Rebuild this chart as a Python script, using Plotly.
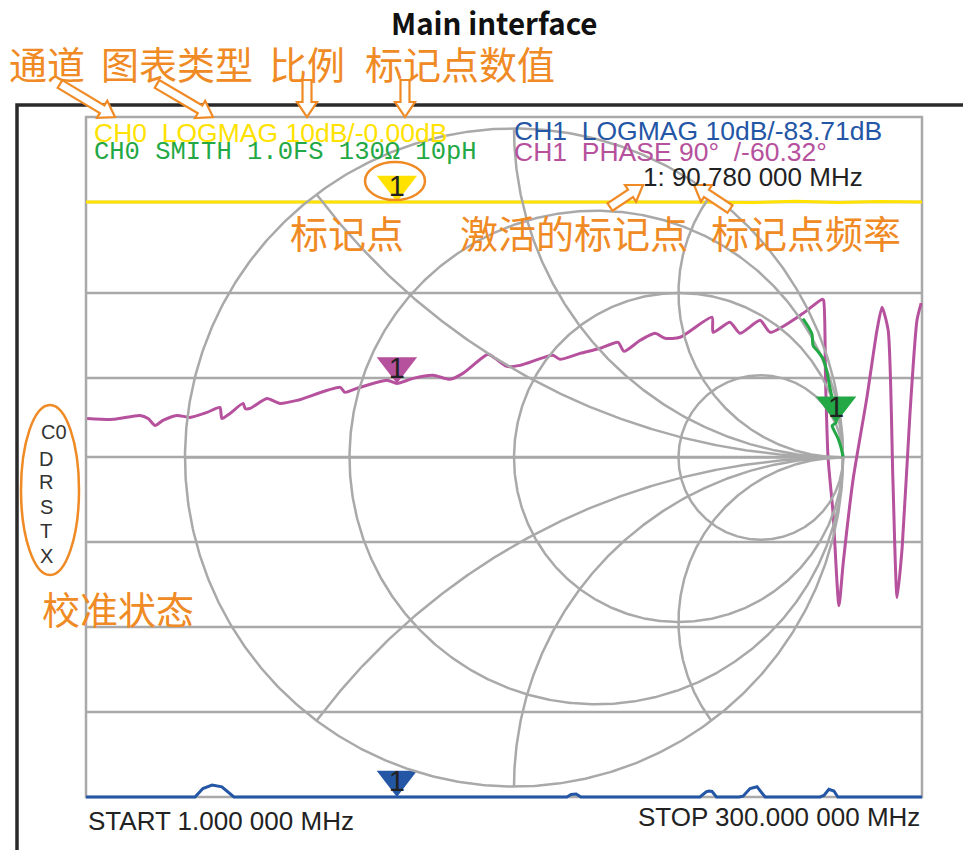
import numpy as np
import plotly.graph_objects as go

# ------------------------------------------------------------------ data
F_START_MHZ = 1.0
F_STOP_MHZ = 300.0
N_DIV = 8
GRID_DIVS = [1, 2, 3, 4, 4.93, 5.93, 7]          # horizontal graticule lines (as drawn)

LOGMAG_SCALE_DB = 10.0
LOGMAG_REF_DIV = 7.0
PHASE_SCALE_DEG = 90.0
PHASE_REF_DIV = 5.536

MARKER_FREQ = 112.2       # sweep position where marker 1 is drawn

# CH0 LOGMAG (yellow), dB
CH0_LOGMAG_FREQ = [1, 30, 60, 90, 120, 150, 180, 210, 240, 255, 270, 285, 300]
CH0_LOGMAG_DB = [0.0, 0.02, -0.02, 0.0, 0.0, -0.01, 0.02, 0.0, -0.05, 0.08, -0.06, 0.05, 0.0]

# CH1 LOGMAG (blue), dB  (mostly below the bottom of the screen)
CH1_LOGMAG_FREQ = [1, 20, 38.5, 40.0, 42.8, 46.1, 49.6, 52.5, 53.9, 56, 80, 112.2, 140,
                   171.5, 173.0, 174.5, 176.3, 178.0, 180, 200,
                   219, 220.6, 222.8, 223.8, 224.9, 226.5,
                   234.5, 236.0, 238.5, 241.0, 243.9, 245.5, 255,
                   263.5, 265.0, 266.7, 268.5, 269.9, 271.5, 285, 300]
CH1_LOGMAG_DB = [-82, -85, -78, -70.2, -69.0, -68.6, -68.8, -69.6, -70.3, -80, -86, -83.71, -88,
                 -76, -70.0, -69.7, -69.65, -70.1, -80, -84,
                 -75, -70.0, -69.4, -69.3, -69.35, -76,
                 -75, -69.9, -69.0, -68.8, -70.1, -80, -86,
                 -75, -69.8, -69.1, -69.3, -70.2, -80, -87, -83]

# CH1 PHASE (magenta), degrees
CH1_PHASE_FREQ = [1.4, 10.7, 20.3, 23.2, 25.7, 28.5, 33.5, 38.2, 44.3, 48.9, 49.6, 52.5,
                  57.2, 57.9, 59.7, 65.7, 70.4, 76.5, 91.9, 93.6, 97.9, 108.7, 112.2,
                  118.0, 125.1, 131.2, 135.8, 144.8, 147.3, 151.6, 156.2, 168.0, 170.5,
                  177.7, 184.9, 191.3, 193.4, 199.2, 204.5, 208.1, 213.5, 224.9, 225.3,
                  231.3, 234.9, 242.1, 245.7, 257.5, 264.3, 264.8, 265.5, 266.4, 268.2,
                  270.3, 271.8, 275.3, 280.3, 283.9, 285.7, 287.9, 289.6, 291.1, 292.9,
                  295.7, 298.2, 299.7]
CH1_PHASE_DEG = [-97.4, -98.4, -94.2, -97.4, -104.8, -99.5, -94.2, -96.3, -91.0, -85.7, -97.4, -92.1,
                 -81.5, -86.8, -86.8, -76.2, -81.5, -78.3, -64.5, -69.8, -65.6, -57.1, -60.32,
                 -55.0, -51.8, -56.0, -49.7, -29.5, -33.7, -42.3, -41.2, -30.6, -34.8,
                 -28.5, -23.1, -16.8, -26.4, -14.7, -7.3, -12.6, -11.5, 9.7, -6.2,
                 4.4, -7.3, 6.5, -6.2, 13.9, 28.8, 27.7, -57.1, -138.8, -198.1,
                 -295.7, -251.2, -163.1, -75.1, -4.1, 20.3, -4.1, -163.1, -287.2, -234.2,
                 -92.1, 6.5, 24.6]

# CH0 SMITH (green), reflection coefficient
CH0_SMITH_RE = [0.878, 0.894, 0.906, 0.909, 0.924, 0.939, 0.951, 0.960, 0.970, 0.979,
                0.967, 0.973, 0.985, 0.994, 1.000]
CH0_SMITH_IM = [0.422, 0.398, 0.374, 0.340, 0.322, 0.301, 0.261, 0.213, 0.167, 0.106,
                0.097, 0.082, 0.058, 0.030, 0.003]
SMITH_MARKER_INDEX = 9

SMITH_R_CIRCLES = [1 / 3, 1, 3]
SMITH_X_ARCS = [0.5, 1, 2, -0.5, -1, -2]

# texts
TITLE = "Main interface"
HDR_CH0_LOGMAG = "CH0\u00a0\u00a0LOGMAG 10dB/-0.00dB"
HDR_CH0_SMITH = "CH0\u00a0SMITH\u00a01.0FS\u00a0130Ω\u00a010pH"
HDR_CH1_LOGMAG = "CH1\u00a0\u00a0LOGMAG 10dB/-83.71dB"
HDR_CH1_PHASE = "CH1\u00a0\u00a0PHASE 90°\u00a0\u00a0/-60.32°"
MARKER_READOUT = "1: 90.780 000 MHz"
START_LABEL = "START 1.000 000 MHz"
STOP_LABEL = "STOP 300.000 000 MHz"
MARKER_LABEL = "1"
CAL_STATUS = ["C0", "D", "R", "S", "T", "X"]
CALLOUT_TOP = ["通道", "图表类型", "比例", "标记点数值"]
CALLOUT_MID = ["标记点", "激活的标记点", "标记点频率"]
CALLOUT_CAL = "校准状态"

# ------------------------------------------------------------------ layout constants
W, H = 963, 850
GRAT_L, GRAT_R, GRAT_T, GRAT_B = 86, 922, 117, 797
PAD = 8
ML, MR, MT, MB = GRAT_L - PAD, W - GRAT_R - PAD, GRAT_T - PAD, H - GRAT_B - PAD
PLOT_W, PLOT_H = W - ML - MR, H - MT - MB
MHZ_PER_PX = (F_STOP_MHZ - F_START_MHZ) / (GRAT_R - GRAT_L)
DIV_PER_PX = N_DIV / (GRAT_B - GRAT_T)

SMITH_CX, SMITH_CY, SMITH_R = 514, 457.5, 329
G_PER_PX = 1.0 / SMITH_R

GRID_COLOR = "#A9A9A9"
GRID_W = 2.5
YELLOW = "#FFE200"
GREEN = "#22A844"
BLUE = "#2456A6"
MAGENTA = "#B6519D"
ORANGE = "#EF8A24"
DARK = "#222222"
LATIN = "Liberation Sans, Arial, sans-serif"
MONO = "Liberation Mono, DejaVu Sans Mono, monospace"
CJK = "Noto Sans CJK SC, sans-serif"


def px(x):
    return (x - ML) / PLOT_W


def py(y):
    return (H - MB - y) / PLOT_H


fig = go.Figure()

# ------------------------------------------------------------------ smith grid (Gamma plane)
def smith_line(xs, ys):
    fig.add_trace(go.Scatter(x=xs, y=ys, mode="lines", xaxis="x2", yaxis="y2",
                             line=dict(color=GRID_COLOR, width=GRID_W),
                             hoverinfo="skip", showlegend=False))


t = np.linspace(0, 2 * np.pi, 721)
smith_line(np.cos(t), np.sin(t))
smith_line([-1, 1], [0, 0])
for r in SMITH_R_CIRCLES:
    c, rad = r / (1 + r), 1 / (1 + r)
    smith_line(c + rad * np.cos(t), rad * np.sin(t))
for xv in SMITH_X_ARCS:
    cx, cy, rho = 1.0, 1.0 / xv, 1.0 / abs(xv)
    p2 = ((xv ** 2 - 1) / (xv ** 2 + 1), 2 * xv / (xv ** 2 + 1))
    a1 = np.arctan2(0 - cy, 1 - cx)
    a2 = np.arctan2(p2[1] - cy, p2[0] - cx)
    d = (a2 - a1) % (2 * np.pi)
    best = None
    for sweep in (d, d - 2 * np.pi):
        am = a1 + sweep / 2
        mx, my = cx + rho * np.cos(am), cy + rho * np.sin(am)
        if mx * mx + my * my < 1:
            best = sweep
    tt = np.linspace(a1, a1 + best, 300)
    smith_line(cx + rho * np.cos(tt), cy + rho * np.sin(tt))

# ------------------------------------------------------------------ rectangular traces
def logmag_div(v):
    return np.clip(LOGMAG_REF_DIV + np.asarray(v, float) / LOGMAG_SCALE_DB, 0, N_DIV)


def phase_div(v):
    return np.clip(PHASE_REF_DIV + np.asarray(v, float) / PHASE_SCALE_DEG, 0, N_DIV)


fig.add_trace(go.Scatter(x=CH0_LOGMAG_FREQ, y=logmag_div(CH0_LOGMAG_DB), mode="lines",
                         line=dict(color=YELLOW, width=3), hoverinfo="skip", showlegend=False))
fig.add_trace(go.Scatter(x=CH1_LOGMAG_FREQ, y=logmag_div(CH1_LOGMAG_DB), mode="lines",
                         line=dict(color=BLUE, width=3), hoverinfo="skip", showlegend=False))
fig.add_trace(go.Scatter(x=CH1_PHASE_FREQ, y=phase_div(CH1_PHASE_DEG), mode="lines",
                         line=dict(color=MAGENTA, width=3, shape="spline", smoothing=0.6),
                         hoverinfo="skip", showlegend=False))
fig.add_trace(go.Scatter(x=CH0_SMITH_RE, y=CH0_SMITH_IM, mode="lines", xaxis="x2", yaxis="y2",
                         line=dict(color=GREEN, width=3, shape="spline", smoothing=0.6),
                         hoverinfo="skip", showlegend=False))

# ------------------------------------------------------------------ markers
MARKER_SIZE = 35


def add_marker(x, y_tip, unit, color, xa="x", ya="y"):
    fig.add_trace(go.Scatter(x=[x], y=[y_tip + MARKER_SIZE / 2 * unit], mode="markers",
                             xaxis=xa, yaxis=ya, cliponaxis=False,
                             marker=dict(symbol="triangle-down", size=MARKER_SIZE, color=color,
                                         line=dict(width=0)),
                             hoverinfo="skip", showlegend=False))
    fig.add_trace(go.Scatter(x=[x], y=[y_tip + 13 * unit], mode="text", text=[MARKER_LABEL],
                             xaxis=xa, yaxis=ya, cliponaxis=False, textposition="middle center",
                             textfont=dict(size=29, color=DARK, family=LATIN),
                             hoverinfo="skip", showlegend=False))


add_marker(MARKER_FREQ, float(logmag_div(np.interp(MARKER_FREQ, CH0_LOGMAG_FREQ, CH0_LOGMAG_DB))),
           DIV_PER_PX, YELLOW)
add_marker(MARKER_FREQ, float(logmag_div(np.interp(MARKER_FREQ, CH1_LOGMAG_FREQ, CH1_LOGMAG_DB))),
           DIV_PER_PX, BLUE)
add_marker(MARKER_FREQ, float(phase_div(np.interp(MARKER_FREQ, CH1_PHASE_FREQ, CH1_PHASE_DEG))),
           DIV_PER_PX, MAGENTA)
add_marker(CH0_SMITH_RE[SMITH_MARKER_INDEX], CH0_SMITH_IM[SMITH_MARKER_INDEX], G_PER_PX, GREEN,
           "x2", "y2")

# ------------------------------------------------------------------ graticule (shapes, data coords)
shapes = []
shapes.append(dict(type="rect", xref="x", yref="y", x0=F_START_MHZ, x1=F_STOP_MHZ, y0=0, y1=N_DIV,
                   line=dict(color=GRID_COLOR, width=GRID_W), layer="below"))
for g in GRID_DIVS:
    shapes.append(dict(type="line", xref="x", yref="y", x0=F_START_MHZ, x1=F_STOP_MHZ, y0=g, y1=g,
                       line=dict(color=GRID_COLOR, width=GRID_W), layer="below"))

# outer dark frame of the screen
shapes.append(dict(type="rect", xref="paper", yref="paper", x0=px(17), x1=px(1000),
                   y0=py(900), y1=py(105), line=dict(color="#2a2a2a", width=3.5), layer="below"))

# orange callout ellipses
for (x0, x1, y0, y1) in [(365, 425, 162, 200), (21, 79, 405, 575)]:
    shapes.append(dict(type="circle", xref="paper", yref="paper", x0=px(x0), x1=px(x1),
                       y0=py(y1), y1=py(y0), line=dict(color=ORANGE, width=2.5)))

# orange hollow arrows (tail -> tip, pixels)
ARROWS = [((60, 84), (115, 117)), ((157, 84), (213, 117)), ((307, 80), (307, 117)),
          ((405, 80), (405, 117)), ((610, 207), (643, 185)), ((730, 209), (694, 185))]


def hollow_arrow(tail, tip, shw=4.5, hhw=10, hl=15):
    (x0, y0), (x1, y1) = tail, tip
    L = np.hypot(x1 - x0, y1 - y0)
    ux, uy = (x1 - x0) / L, (y1 - y0) / L
    nx, ny = -uy, ux
    bx, by = x1 - ux * hl, y1 - uy * hl
    pts = [(x0 + nx * shw, y0 + ny * shw), (bx + nx * shw, by + ny * shw),
           (bx + nx * hhw, by + ny * hhw), (x1, y1), (bx - nx * hhw, by - ny * hhw),
           (bx - nx * shw, by - ny * shw), (x0 - nx * shw, y0 - ny * shw)]
    return "M " + " L ".join(f"{px(a):.5f},{py(b):.5f}" for a, b in pts) + " Z"


for tail, tip in ARROWS:
    shapes.append(dict(type="path", xref="paper", yref="paper", path=hollow_arrow(tail, tip),
                       fillcolor="white", line=dict(color=ORANGE, width=2.2)))

# ------------------------------------------------------------------ text
ann = []


def text(s, x, y, size, color, family=LATIN, xanchor="left", weight="normal"):
    ann.append(dict(text=s, x=px(x), y=py(y), xref="paper", yref="paper", showarrow=False,
                    xanchor=xanchor, yanchor="middle",
                    font=dict(size=size, color=color, family=family, weight=weight)))


text(TITLE, 494, 22, 29.5, "#111111", CJK, "center", "bold")
for s, cx in zip(CALLOUT_TOP, [47, 177, 307, 460]):
    text(s, cx, 62, 38, ORANGE, CJK, "center")
for s, cx in zip(CALLOUT_MID, [347, 574, 806]):
    text(s, cx, 231, 38, ORANGE, CJK, "center")
text(CALLOUT_CAL, 118, 607, 38, ORANGE, CJK, "center")

text(HDR_CH0_LOGMAG, 92, 133, 26.5, YELLOW)
text(HDR_CH0_SMITH, 92, 152, 25.5, GREEN, MONO)
text(HDR_CH1_LOGMAG, 512, 131, 26.5, BLUE)
text(HDR_CH1_PHASE, 512, 152, 26.5, MAGENTA)
text(MARKER_READOUT, 641, 177, 26, DARK)
text(START_LABEL, 86, 821, 26, DARK)
text(STOP_LABEL, 922, 817, 26, DARK, xanchor="right")

text(CAL_STATUS[0], 39, 432.5, 20, "#333333")
for s, cy in zip(CAL_STATUS[1:], [459, 482, 506.5, 531, 555.5]):
    text(s, 46, cy, 20, "#333333", xanchor="center")

# ------------------------------------------------------------------ axes
x_range = [F_START_MHZ - PAD * MHZ_PER_PX, F_STOP_MHZ + PAD * MHZ_PER_PX]
y_range = [-PAD * DIV_PER_PX, N_DIV + PAD * DIV_PER_PX]
x2_range = [(ML - SMITH_CX) / SMITH_R, (ML + PLOT_W - SMITH_CX) / SMITH_R]
y2_range = [(SMITH_CY - (MT + PLOT_H)) / SMITH_R, (SMITH_CY - MT) / SMITH_R]

hidden = dict(showgrid=False, zeroline=False, showticklabels=False, ticks="", showline=False,
              fixedrange=True)
fig.update_layout(
    width=W, height=H, margin=dict(l=ML, r=MR, t=MT, b=MB, pad=0),
    paper_bgcolor="white", plot_bgcolor="white", showlegend=False,
    xaxis=dict(range=x_range, **hidden),
    yaxis=dict(range=y_range, **hidden),
    xaxis2=dict(range=x2_range, overlaying="x", **hidden),
    yaxis2=dict(range=y2_range, overlaying="y", **hidden),
    shapes=shapes, annotations=ann,
)

fig.write_html("out.html", config={"displayModeBar": False},
               post_script="document.body.style.margin='0';document.body.style.overflow='hidden';")
